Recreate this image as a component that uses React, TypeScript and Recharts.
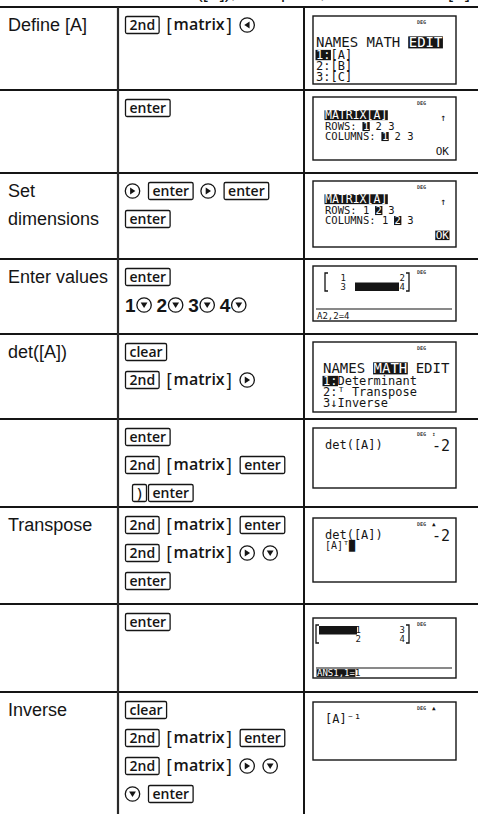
import React from 'react';
import { ComposedChart, XAxis, YAxis, ReferenceLine, ReferenceArea } from 'recharts';

// ---------- content ----------
const topCaption = 'Find det([A]), transpose, and inverse of [A]';

const rowLabels: string[][] = [
  ['Define [A]'],
  [],
  ['Set', 'dimensions'],
  ['Enter values'],
  ['det([A])'],
  [],
  ['Transpose'],
  [],
  ['Inverse'],
];

// K: boxed key, B: bracketed key, A: arrow pad, D: digit, _: indent
const keySequences: string[][][] = [
  [['K:2nd', 'B:matrix', 'A:left']],
  [['K:enter']],
  [['A:right', 'K:enter', 'A:right', 'K:enter'], ['K:enter']],
  [['K:enter'], ['D:1', 'A:down', 'D:2', 'A:down', 'D:3', 'A:down', 'D:4', 'A:down']],
  [['K:clear'], ['K:2nd', 'B:matrix', 'A:right']],
  [['K:enter'], ['K:2nd', 'B:matrix', 'K:enter'], ['_', 'K:)', 'K:enter']],
  [['K:2nd', 'B:matrix', 'K:enter'], ['K:2nd', 'B:matrix', 'A:right', 'A:down'], ['K:enter']],
  [['K:enter']],
  [['K:clear'], ['K:2nd', 'B:matrix', 'K:enter'], ['K:2nd', 'B:matrix', 'A:right', 'A:down'], ['A:down', 'K:enter']],
];

const screenKinds = ['menu', 'dims', 'dims', 'matrix', 'menu', 'home', 'home', 'matrix', 'home'];
const screenTitles = ['NAMES MATH ⟦EDIT⟧', '⟦MATRIX[A]⟧', '⟦MATRIX[A]⟧', '', 'NAMES ⟦MATH⟧ EDIT', '', '', '', ''];
const screenItems: string[][] = [
  ['⟦1:⟧[A]', '2:[B]', '3:[C]'],
  ['ROWS: ⟦1⟧ 2 3', 'COLUMNS: ⟦1⟧ 2 3'],
  ['ROWS: 1 ⟦2⟧ 3', 'COLUMNS: 1 ⟦2⟧ 3'],
  [],
  ['⟦1:⟧Determinant', '2:ᵀ Transpose', '3↓Inverse'],
  ['det([A])'],
  ['det([A])', '[A]ᵀ█'],
  [],
  ['[A]⁻¹'],
];
const screenOk = ['', 'OK', '⟦OK⟧', '', '', '', '', '', ''];
const screenResults = ['', '', '', '', '', '-2', '-2', '', ''];
const screenIndicators = ['', '↑', '↑', '', '', '↕', '▲', '', '▲'];
const matrixCells: string[][][] = [[], [], [], [['1', '2'], ['3', '4']], [], [], [], [['1', '3'], ['2', '4']], []];
const matrixSelected: number[][] = [[], [], [], [1, 1], [], [], [], [0, 0], []];
const matrixStatus = ['', '', '', 'A2,2=4', '', '', '', '⟦ANS1,1=⟧1', ''];

// ---------- layout ----------
const W = 478;
const H = 814;
const ROW_EDGES = [7, 90, 173, 259, 334, 419, 507, 604, 692, 814];
const COL1 = 118;
const COL2 = 304;
const BOX_X = 313;
const BOX_W = 143;
const screenBoxes = [
  { top: 9, h: 68, indent: 3 },
  { top: 7, h: 63, indent: 12 },
  { top: 8, h: 66, indent: 12 },
  { top: 7, h: 55, indent: 12, cols: [33, 92], selX: [42, 86], rule: 43, lb: 12, rb: 96 },
  { top: 8, h: 70, indent: 10 },
  { top: 9, h: 60, indent: 12 },
  { top: 11, h: 64, indent: 12 },
  { top: 14, h: 60, indent: 3, cols: [48, 92], selX: [6, 44], rule: 50, lb: 3, rb: 96 },
  { top: 10, h: 58, indent: 12 },
];

const INK = '#151515';
const LABEL_FONT = "'Liberation Sans', Arial, sans-serif";
const KEY_FAMILY = "'Open Sans', sans-serif";
const MONO = "'DejaVu Sans Mono', monospace";

let ctx: CanvasRenderingContext2D | null = null;
const measure = (t: string, font: string): number => {
  if (!ctx) ctx = document.createElement('canvas').getContext('2d');
  if (!ctx) return t.length * 8;
  ctx.font = font;
  return ctx.measureText(t).width;
};

const parseInv = (s: string) => {
  const segs: { t: string; inv: boolean }[] = [];
  const re = /⟦(.*?)⟧/g;
  let last = 0;
  let m: RegExpExecArray | null;
  while ((m = re.exec(s))) {
    if (m.index > last) segs.push({ t: s.slice(last, m.index), inv: false });
    segs.push({ t: m[1], inv: true });
    last = re.lastIndex;
  }
  if (last < s.length) segs.push({ t: s.slice(last), inv: false });
  return segs;
};

const MonoLine = ({ x, y, fs, text, end }: { x: number; y: number; fs: number; text: string; end?: boolean }) => {
  const cw = fs * 0.602;
  const segs = parseInv(text);
  const total = [...text.replace(/[⟦⟧]/g, '')].length * cw;
  let cx = end ? x - total : x;
  return (
    <g>
      {segs.map((sg, i) => {
        const w = [...sg.t].length * cw;
        const el = (
          <g key={i}>
            {sg.inv && <rect x={cx - 0.5} y={y - fs * 0.76} width={w + 1} height={fs * 0.86} fill={INK} />}
            <text x={cx} y={y} fontSize={fs} fontFamily={MONO} fill={sg.inv ? '#fff' : INK} style={{ whiteSpace: 'pre' }}>
              {sg.t}
            </text>
          </g>
        );
        cx += w;
        return el;
      })}
    </g>
  );
};

const Arrow = ({ cx, cy, dir }: { cx: number; cy: number; dir: string }) => {
  const s = 3.4;
  let pts = '';
  if (dir === 'left') pts = `${cx - s + 0.5},${cy} ${cx + s - 1},${cy - s} ${cx + s - 1},${cy + s}`;
  if (dir === 'right') pts = `${cx + s - 0.5},${cy} ${cx - s + 1},${cy - s} ${cx - s + 1},${cy + s}`;
  if (dir === 'down') pts = `${cx},${cy + s - 0.5} ${cx - s},${cy - s + 1} ${cx + s},${cy - s + 1}`;
  return (
    <g>
      <circle cx={cx} cy={cy} r={7.2} fill="#fff" stroke={INK} strokeWidth={1.3} />
      <polygon points={pts} fill={INK} />
    </g>
  );
};

const KeyLine = ({ tokens, x0, cy }: { tokens: string[]; x0: number; cy: number }) => {
  let x = x0;
  const out: React.ReactNode[] = [];
  tokens.forEach((tok, j) => {
    const [type, val] = tok === '_' ? ['_', ''] : [tok.slice(0, 1), tok.slice(2)];
    const next = tokens[j + 1] || '';
    if (type === '_') {
      x += 7;
    } else if (type === 'K') {
      const tw = measure(val, `600 14px ${KEY_FAMILY}`);
      const w = Math.max(tw + 8, 14);
      out.push(
        <g key={j}>
          <rect x={x + 0.5} y={cy - 8.5} width={w} height={17} rx={1.5} fill="#fff" stroke={INK} strokeWidth={1.3} />
          <text x={x + 0.5 + w / 2} y={cy + 4.8} textAnchor="middle" fontSize={14} fontWeight={600} fontFamily={KEY_FAMILY} fill={INK}>
            {val}
          </text>
        </g>
      );
      x += w + (next === '' ? 0 : next.startsWith('K') && val === ')' ? 2 : 8);
    } else if (type === 'B') {
      const bw = measure('[', `400 18px ${LABEL_FONT}`);
      const mw = measure(val, `600 16px ${KEY_FAMILY}`);
      out.push(
        <g key={j}>
          <text x={x} y={cy + 6} fontSize={18} fontFamily={LABEL_FONT} fill={INK}>[</text>
          <text x={x + bw + 2} y={cy + 5} fontSize={16} fontWeight={600} fontFamily={KEY_FAMILY} fill={INK}>{val}</text>
          <text x={x + bw + 4 + mw} y={cy + 6} fontSize={18} fontFamily={LABEL_FONT} fill={INK}>]</text>
        </g>
      );
      x += bw * 2 + mw + 4 + 8;
    } else if (type === 'A') {
      out.push(<Arrow key={j} cx={x + 7.5} cy={cy} dir={val} />);
      x += 15 + (next.startsWith('D') ? 5 : 8);
    } else if (type === 'D') {
      const dw = measure(val, `700 19px ${LABEL_FONT}`);
      out.push(
        <text key={j} x={x} y={cy + 7} fontSize={19} fontWeight={700} fontFamily={LABEL_FONT} fill={INK}>
          {val}
        </text>
      );
      x += dw + 1;
    }
  });
  return <g>{out}</g>;
};

const Bracket = ({ x, y1, y2, side }: { x: number; y1: number; y2: number; side: number }) => (
  <path d={`M${x + side * 3},${y1} H${x} V${y2} H${x + side * 3}`} fill="none" stroke={INK} strokeWidth={1.3} />
);

const Screen = ({ i, bx, by }: { i: number; bx: number; by: number }) => {
  const L = screenBoxes[i];
  const kind = screenKinds[i];
  const h = L.h;
  const parts: React.ReactNode[] = [];
  parts.push(<rect key="box" x={bx} y={by} width={BOX_W} height={h} fill="#fff" stroke={INK} strokeWidth={1.4} />);
  parts.push(
    <text key="deg" x={bx + 104} y={by + 8} fontSize={5} fontWeight={700} fontFamily={MONO} fill="#444">DEG</text>
  );
  if (screenIndicators[i]) {
    const isArrowRight = kind === 'dims';
    parts.push(
      <text
        key="ind"
        x={isArrowRight ? bx + 127 : bx + 119}
        y={isArrowRight ? by + 24 : by + 7.5}
        fontSize={isArrowRight ? 10 : 6}
        fontFamily={MONO}
        fill={INK}
      >
        {screenIndicators[i]}
      </text>
    );
  }
  const x0 = bx + L.indent;
  if (kind === 'menu') {
    parts.push(<MonoLine key="t" x={x0} y={by + 31} fs={14} text={screenTitles[i]} />);
    screenItems[i].forEach((s, k) => parts.push(<MonoLine key={'m' + k} x={x0} y={by + 43 + k * 11} fs={12} text={s} />));
  } else if (kind === 'dims') {
    parts.push(<MonoLine key="t" x={x0} y={by + 22} fs={11.5} text={screenTitles[i]} />);
    screenItems[i].forEach((s, k) => parts.push(<MonoLine key={'d' + k} x={x0} y={by + 33 + k * 10} fs={10.5} text={s} />));
    parts.push(<MonoLine key="ok" x={bx + 136} y={by + 58} fs={11} text={screenOk[i]} end />);
  } else if (kind === 'matrix') {
    const cells = matrixCells[i];
    const sel = matrixSelected[i];
    const cols = L.cols as number[];
    const selX = L.selX as number[];
    parts.push(<Bracket key="lb" x={bx + (L.lb as number)} y1={by + 7} y2={by + 25} side={1} />);
    parts.push(<Bracket key="rb" x={bx + (L.rb as number)} y1={by + 7} y2={by + 25} side={-1} />);
    parts.push(
      <rect key="sel" x={bx + selX[0]} y={by + 8 + sel[0] * 8.5} width={selX[1] - selX[0]} height={8.5} fill={INK} />
    );
    cells.forEach((row, r) =>
      row.forEach((v, c) =>
        parts.push(
          <text key={`c${r}${c}`} x={bx + cols[c]} y={by + 15 + r * 8.5} textAnchor="end" fontSize={9} fontFamily={MONO} fill={INK}>
            {v}
          </text>
        )
      )
    );
    parts.push(<line key="rule" x1={bx + 3} x2={bx + BOX_W - 4} y1={by + (L.rule as number)} y2={by + (L.rule as number)} stroke={INK} strokeWidth={1.2} />);
    parts.push(<MonoLine key="st" x={bx + 4} y={by + h - 2} fs={9} text={matrixStatus[i]} />);
  } else if (kind === 'home') {
    screenItems[i].forEach((s, k) =>
      parts.push(<MonoLine key={'h' + k} x={x0} y={by + 21 + k * 10} fs={k === 0 ? 12 : 10} text={s} />)
    );
    if (screenResults[i]) {
      parts.push(
        <text key="res" x={bx + 137} y={by + 23} textAnchor="end" fontSize={15} fontFamily={MONO} fill={INK}>
          {screenResults[i]}
        </text>
      );
    }
  }
  return <g>{parts}</g>;
};

const renderRow = (i: number) => (props: any) => {
  const vb = props.viewBox || { x: 0, y: ROW_EDGES[i], width: W, height: 0 };
  const top = vb.y;
  const left = vb.x;
  return (
    <g>
      {rowLabels[i].map((t, k) => (
        <text key={'l' + k} x={left + 8} y={top + 24 + k * 28} fontSize={18} fontFamily={LABEL_FONT} fill={INK}>
          {t}
        </text>
      ))}
      {keySequences[i].map((line, k) => (
        <KeyLine key={'k' + k} tokens={line} x0={left + COL1 + 7} cy={top + 18 + k * 28} />
      ))}
      <Screen i={i} bx={left + BOX_X} by={top + screenBoxes[i].top} />
    </g>
  );
};

const renderCaption = (props: any) => {
  const vb = props.viewBox || { x: 0, y: 7 };
  return (
    <text x={470} y={vb.y - 9} textAnchor="end" fontSize={18} fontFamily={LABEL_FONT} fill={INK}>
      {topCaption}
    </text>
  );
};

export default function App() {
  return (
    <div style={{ position: 'absolute', left: 0, top: 0, width: W, height: H, background: '#fff' }}>
      <ComposedChart width={W} height={H} margin={{ top: 0, right: 0, bottom: 0, left: 0 }} data={[]}>
        <XAxis type="number" dataKey="x" domain={[0, W]} hide allowDataOverflow />
        <YAxis type="number" dataKey="y" domain={[0, H]} reversed hide allowDataOverflow />
        {rowLabels.map((_, i) => (
          <ReferenceArea
            key={'r' + i}
            x1={0}
            x2={W}
            y1={ROW_EDGES[i]}
            y2={ROW_EDGES[i + 1]}
            fill="#fff"
            fillOpacity={0}
            stroke="none"
            label={renderRow(i)}
          />
        ))}
        {ROW_EDGES.slice(0, -1).map((y, i) => (
          <ReferenceLine
            key={'h' + i}
            y={y}
            stroke={INK}
            strokeWidth={2}
            label={i === 0 ? renderCaption : undefined}
          />
        ))}
        <ReferenceLine segment={[{ x: COL1, y: ROW_EDGES[0] }, { x: COL1, y: H }]} stroke="#2a2a2a" strokeWidth={2.2} />
        <ReferenceLine segment={[{ x: COL2, y: ROW_EDGES[0] }, { x: COL2, y: H }]} stroke={INK} strokeWidth={2} />
      </ComposedChart>
    </div>
  );
}
